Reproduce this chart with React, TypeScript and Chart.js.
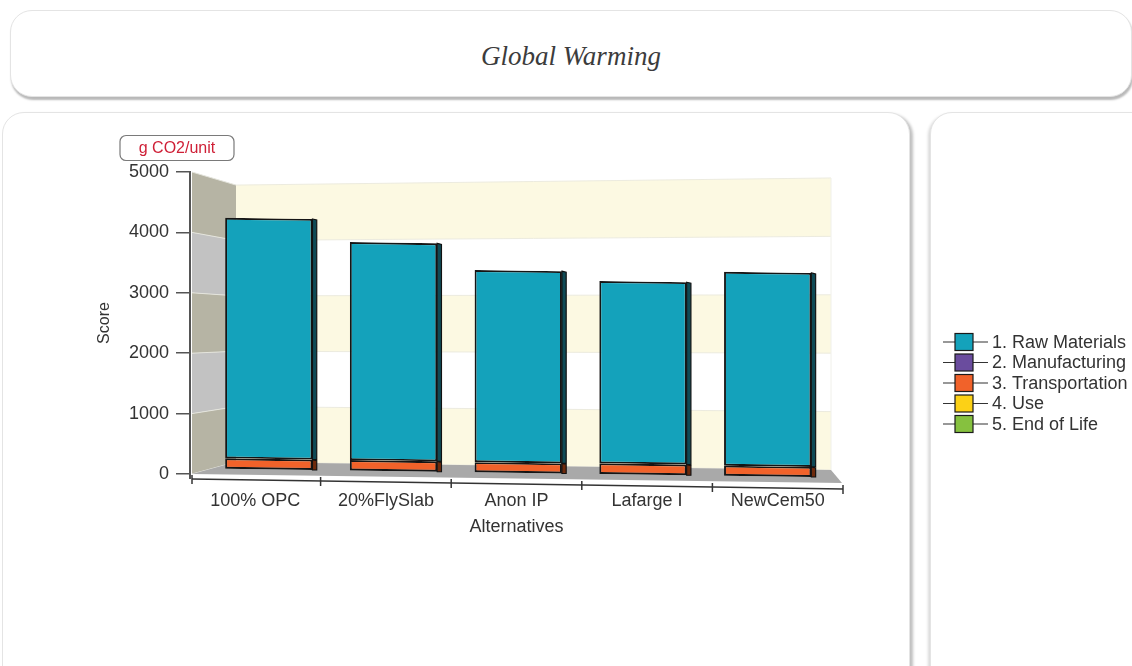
import React, { useEffect, useRef } from 'react';
import { Chart, registerables } from 'chart.js';
Chart.register(...registerables);

const chartTitle = 'Global Warming';
const unitLabel = 'g CO2/unit';
const yAxisTitle = 'Score';
const xAxisTitle = 'Alternatives';
const categories = ['100% OPC', '20%FlySlab', 'Anon IP', 'Lafarge I', 'NewCem50'];
const seriesNames = ['1. Raw Materials', '2. Manufacturing', '3. Transportation', '4. Use', '5. End of Life'];
const seriesColors = ['#14a2bb', '#6a4c9e', '#f1622a', '#fcd116', '#86c13f'];
const sideColors = ['#0f4a55', '#2c1f45', '#6e2a0c', '#6a5800', '#37521a'];
const rawMaterials = [4150, 3760, 3315, 3145, 3345];
const manufacturing = [0, 0, 0, 0, 0];
const transportation = [190, 190, 185, 195, 185];
const useStage = [0, 0, 0, 0, 0];
const endOfLife = [0, 0, 0, 0, 0];
const yMin = 0;
const yMax = 5000;
const yStep = 1000;

const FONT = "'Liberation Sans', Arial, sans-serif";
// perspective of the bar plane (drawing camera)
const BAR_T = [0.955, 0.0134, 0, 0.96, 25, 11.54];

export default function App() {
  const ref = useRef<HTMLCanvasElement>(null);

  useEffect(() => {
    const canvas = ref.current;
    if (!canvas) return;
    const values = [rawMaterials, manufacturing, transportation, useStage, endOfLife];
    const stackOrder = [4, 3, 2, 1, 0];
    const datasets = stackOrder.map((i) => ({
      label: seriesNames[i],
      data: values[i],
      backgroundColor: seriesColors[i],
      borderColor: '#151515',
      borderWidth: (c: any) => (c.raw ? 2 : 0),
      borderSkipped: false,
      stack: 'total',
      clip: false,
      categoryPercentage: 1,
      barPercentage: 0.7,
      seriesIndex: i,
    }));

    const geom = (chart: any) => {
      const { left, right, bottom } = chart.chartArea;
      const ys = chart.scales.y;
      const front = (v: number) => ys.getPixelForValue(v);
      return {
        fx: left + 2,
        blx: left + 46,
        brx: right - 12,
        front,
        backL: (v: number) => bottom - 12 - (bottom - front(v)) * 0.917,
        backR: (v: number) => bottom - 4 - (bottom - front(v)) * 0.967,
      };
    };

    const poly = (ctx: CanvasRenderingContext2D, pts: number[][], fill: string) => {
      ctx.beginPath();
      ctx.moveTo(pts[0][0], pts[0][1]);
      for (let k = 1; k < pts.length; k++) ctx.lineTo(pts[k][0], pts[k][1]);
      ctx.closePath();
      ctx.fillStyle = fill;
      ctx.fill();
    };

    const wallsPlugin = {
      id: 'walls3d',
      beforeDraw(chart: any) {
        const ctx = chart.ctx;
        const { right, bottom } = chart.chartArea;
        const g = geom(chart);
        ctx.save();
        const tickVals: number[] = chart.scales.y.ticks.map((t: any) => t.value);
        for (let k = 0; k < tickVals.length - 1; k++) {
          const v0 = tickVals[k];
          const v1 = tickVals[k + 1];
          const band = Math.round((v0 - yMin) / yStep) % 2 === 0;
          poly(ctx, [[g.fx, g.front(v0)], [g.fx, g.front(v1)], [g.blx, g.backL(v1)], [g.blx, g.backL(v0)]], band ? '#b6b4a4' : '#c2c2c2');
          poly(ctx, [[g.blx, g.backL(v0)], [g.blx, g.backL(v1)], [g.brx, g.backR(v1)], [g.brx, g.backR(v0)]], band ? '#fcf9e2' : '#ffffff');
        }
        ctx.lineWidth = 1;
        for (const v of tickVals) {
          ctx.strokeStyle = '#e4e4dc';
          ctx.beginPath();
          ctx.moveTo(g.fx, g.front(v));
          ctx.lineTo(g.blx, g.backL(v));
          ctx.stroke();
          ctx.strokeStyle = '#ecebdf';
          ctx.beginPath();
          ctx.moveTo(g.blx, g.backL(v));
          ctx.lineTo(g.brx, g.backR(v));
          ctx.stroke();
        }
        ctx.strokeStyle = '#f0f0ea';
        ctx.beginPath();
        ctx.moveTo(g.brx, g.backR(yMax));
        ctx.lineTo(g.brx, g.backR(yMin));
        ctx.stroke();
        // floor
        poly(ctx, [[g.fx, bottom], [g.blx, g.backL(yMin)], [g.brx, g.backR(yMin)], [right - 1, bottom + 9]], '#a9a9a9');
        ctx.restore();
      },
      beforeDatasetsDraw(chart: any) {
        const ctx = chart.ctx;
        ctx.save();
        ctx.transform(BAR_T[0], BAR_T[1], BAR_T[2], BAR_T[3], BAR_T[4], BAR_T[5]);
      },
      afterDatasetsDraw(chart: any) {
        const ctx = chart.ctx;
        const dx = 4.5;
        const dy = 1;
        chart.data.datasets.forEach((ds: any, di: number) => {
          const meta = chart.getDatasetMeta(di);
          meta.data.forEach((el: any) => {
            const { x, y, base, width } = el.getProps(['x', 'y', 'base', 'width'], true);
            if (Math.abs(base - y) < 0.5) return;
            const top = Math.min(y, base);
            const bot = Math.max(y, base);
            const xr = x + width / 2;
            ctx.fillStyle = sideColors[ds.seriesIndex];
            ctx.strokeStyle = '#111';
            ctx.lineWidth = 1.2;
            ctx.beginPath();
            ctx.moveTo(xr, top);
            ctx.lineTo(xr + dx, top + dy);
            ctx.lineTo(xr + dx, bot);
            ctx.lineTo(xr, bot);
            ctx.closePath();
            ctx.fill();
            ctx.stroke();
          });
        });
        ctx.restore();
      },
      afterDraw(chart: any) {
        const ctx = chart.ctx;
        const { left, right, top, bottom } = chart.chartArea;
        const g = geom(chart);
        ctx.save();
        // y axis extension to x axis
        ctx.strokeStyle = '#555';
        ctx.lineWidth = 2;
        ctx.beginPath();
        ctx.moveTo(left, bottom);
        ctx.lineTo(left, bottom + 5);
        ctx.stroke();
        // slanted x axis
        const y0 = bottom + 5;
        const y1 = bottom + 15;
        const yAt = (x: number) => y0 + ((x - g.fx) / (right - g.fx)) * (y1 - y0);
        ctx.strokeStyle = '#333';
        ctx.lineWidth = 1.5;
        ctx.beginPath();
        ctx.moveTo(g.fx, y0);
        ctx.lineTo(right, y1);
        ctx.stroke();
        const n = categories.length;
        for (let i = 0; i <= n; i++) {
          const x = i === 0 ? g.fx : left + (i * (right - left)) / n;
          const yy = yAt(x);
          ctx.beginPath();
          ctx.moveTo(x, yy - 4);
          ctx.lineTo(x, yy + 5);
          ctx.stroke();
        }
        // unit box
        const cx = left - 13;
        const cy = top - 24;
        ctx.beginPath();
        ctx.roundRect(cx - 57, cy - 12.5, 114, 25, 6);
        ctx.fillStyle = '#fff';
        ctx.fill();
        ctx.strokeStyle = '#7a7a7a';
        ctx.lineWidth = 1.2;
        ctx.stroke();
        ctx.fillStyle = '#cf1f36';
        ctx.font = `16px ${FONT}`;
        ctx.textAlign = 'center';
        ctx.textBaseline = 'middle';
        ctx.fillText(unitLabel, cx, cy + 1);
        // legend
        const items = chart.data.datasets.slice().sort((p: any, q: any) => p.seriesIndex - q.seriesIndex);
        const lx = 943;
        const ly = 342;
        ctx.font = `18px ${FONT}`;
        ctx.textAlign = 'left';
        items.forEach((ds: any, k: number) => {
          const yy = ly + k * 20.5;
          ctx.strokeStyle = '#333';
          ctx.lineWidth = 1.2;
          ctx.beginPath();
          ctx.moveTo(lx, yy);
          ctx.lineTo(lx + 45, yy);
          ctx.stroke();
          ctx.fillStyle = ds.backgroundColor;
          ctx.fillRect(lx + 12, yy - 8.5, 18, 17);
          ctx.strokeStyle = '#1a1a1a';
          ctx.strokeRect(lx + 12, yy - 8.5, 18, 17);
          ctx.fillStyle = '#333';
          ctx.fillText(ds.label, lx + 49, yy + 1);
        });
        ctx.restore();
      },
    };

    const chart = new Chart(canvas, {
      type: 'bar',
      data: { labels: categories, datasets: datasets as any },
      plugins: [wallsPlugin as any],
      options: {
        responsive: false,
        animation: false,
        devicePixelRatio: 1,
        layout: { padding: { left: 0, top: 172, right: 289, bottom: 0 } },
        plugins: { legend: { display: false }, tooltip: { enabled: false }, title: { display: false } },
        scales: {
          x: {
            stacked: true,
            offset: true,
            grid: { display: false, drawTicks: false, tickLength: 0 },
            border: { display: false },
            ticks: { color: '#333', font: { family: FONT, size: 18 }, padding: 16, maxRotation: 0, autoSkip: false },
            title: { display: true, text: xAxisTitle, color: '#333', font: { family: FONT, size: 18 }, padding: { top: 0, bottom: 128 } },
            afterFit: (s: any) => { s.height = 192; },
          },
          y: {
            stacked: true,
            min: yMin,
            max: yMax,
            ticks: { stepSize: yStep, color: '#333', font: { family: FONT, size: 18 }, padding: 7, callback: (v: any) => String(v) },
            grid: { drawOnChartArea: false, color: '#555', tickLength: 14, lineWidth: 1.5 },
            border: { display: true, color: '#555', width: 2 },
            title: { display: true, text: yAxisTitle, color: '#333', font: { family: FONT, size: 16 }, padding: { top: 95, bottom: 0 } },
            afterFit: (s: any) => { s.width = 190; },
          },
        },
      } as any,
    });
    return () => chart.destroy();
  }, []);

  const panel: React.CSSProperties = {
    position: 'absolute',
    background: '#fff',
    border: '1px solid #e4e4e4',
    borderRadius: 22,
  };

  return (
    <div style={{ position: 'absolute', left: 0, top: 0, width: 1132, height: 666, overflow: 'hidden', background: '#fff' }}>
      <div style={{ ...panel, left: 10, top: 10, width: 1120, height: 85, boxShadow: '1px 3px 2px rgba(0,0,0,0.28)', display: 'flex', alignItems: 'center', justifyContent: 'center' }}>
        <span style={{ fontFamily: "'Liberation Serif', 'Times New Roman', serif", fontStyle: 'italic', fontSize: 27, color: '#3c3c3c', paddingTop: 5 }}>{chartTitle}</span>
      </div>
      <div style={{ ...panel, left: 2, top: 112, width: 906, height: 620, boxShadow: '3px 2px 3px rgba(0,0,0,0.25)' }} />
      <div style={{ ...panel, left: 930, top: 112, width: 240, height: 620, boxShadow: '-2px 2px 3px rgba(0,0,0,0.15)' }} />
      <canvas ref={ref} width={1132} height={666} style={{ position: 'absolute', left: 0, top: 0, width: 1132, height: 666 }} />
    </div>
  );
}
